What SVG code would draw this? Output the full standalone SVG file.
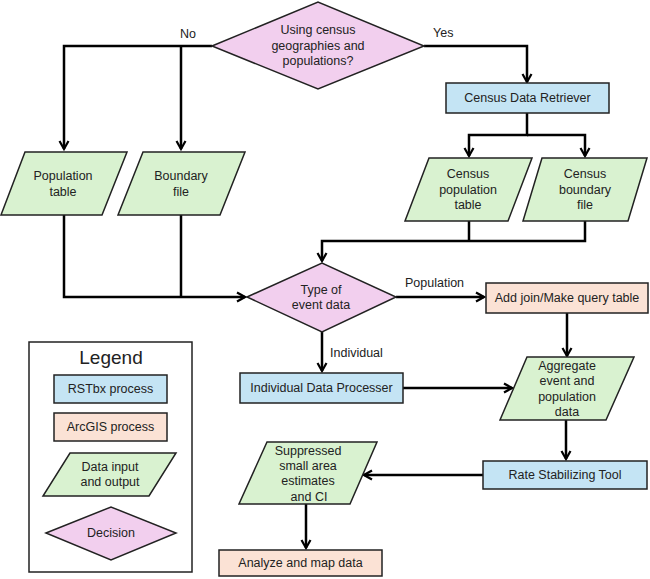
<svg xmlns="http://www.w3.org/2000/svg" width="650" height="579" viewBox="0 0 650 579">
<defs>
<marker id="arr" viewBox="0 0 12 12" refX="10" refY="6" markerWidth="12" markerHeight="12" markerUnits="userSpaceOnUse" orient="auto">
<path d="M2,1.5 L10,6 L2,10.5" fill="none" stroke="#000" stroke-width="2.2"/>
</marker>
</defs>
<style>
text{font-family:"Liberation Sans",Arial,sans-serif;font-size:12.5px;fill:#222;text-anchor:middle;dominant-baseline:central}
.lbl{text-anchor:start}
.blue{fill:#c4e4f4;stroke:#222;stroke-width:1.5}
.peach{fill:#fbe2d5;stroke:#222;stroke-width:1.5}
.green{fill:#d9f2d0;stroke:#222;stroke-width:1.5}
.pink{fill:#f2cfee;stroke:#222;stroke-width:1.5}
.conn path{fill:none;stroke:#000;stroke-width:2.5}
.legend{font-size:19px}
</style>
<rect width="650" height="579" fill="#fff"/>
<g class="conn" id="connectors">
<path d="M212,46 H64 V149" marker-end="url(#arr)"/>
<path d="M181,46 V149" marker-end="url(#arr)"/>
<path d="M424,46 H527 V82" marker-end="url(#arr)"/>
<path d="M527,113 V135 H469 V156" marker-end="url(#arr)"/>
<path d="M527,135 H585 V156" marker-end="url(#arr)"/>
<path d="M585,221 V241 H322 V261" marker-end="url(#arr)"/>
<path d="M469,221 V241"/>
<path d="M64,215 V297 H245" marker-end="url(#arr)"/>
<path d="M181,215 V297"/>
<path d="M396,297 H484" marker-end="url(#arr)"/>
<path d="M567,313 V356" marker-end="url(#arr)"/>
<path d="M322,332 V371" marker-end="url(#arr)"/>
<path d="M403,388 H512" marker-end="url(#arr)"/>
<path d="M566,420 V459" marker-end="url(#arr)"/>
<path d="M483,475 H364" marker-end="url(#arr)"/>
<path d="M306,504 V548" marker-end="url(#arr)"/>
</g>
<text class="lbl" x="180" y="34">No</text>
<text class="lbl" x="433" y="33">Yes</text>
<text class="lbl" x="405" y="283">Population</text>
<text class="lbl" x="330" y="353">Individual</text>
<g id="census-decision">
<polygon class="pink" points="212,46 318,2 424,46 318,89"/>
<text x="318" y="30">Using census</text>
<text x="318" y="45.5">geographies and</text>
<text x="318" y="61">populations?</text>
</g>
<g id="census-retriever">
<rect class="blue" x="446" y="83" width="163" height="30"/>
<text x="527.5" y="98">Census Data Retriever</text>
</g>
<g id="population-table">
<polygon class="green" points="25,152 127,152 102,215 1,215"/>
<text x="63" y="176">Population</text>
<text x="63" y="192">table</text>
</g>
<g id="boundary-file">
<polygon class="green" points="143,152 245,152 220,215 118,215"/>
<text x="181" y="176">Boundary</text>
<text x="181" y="192">file</text>
</g>
<g id="census-population-table">
<polygon class="green" points="429,158 532,158 508,221 405,221"/>
<text x="468" y="174">Census</text>
<text x="468" y="190">population</text>
<text x="468" y="205">table</text>
</g>
<g id="census-boundary-file">
<polygon class="green" points="542,158 647,158 628,221 523,221"/>
<text x="585" y="174">Census</text>
<text x="585" y="190">boundary</text>
<text x="585" y="205">file</text>
</g>
<g id="event-type-decision">
<polygon class="pink" points="247,297 322,263 396,297 322,332"/>
<text x="321" y="290">Type of</text>
<text x="321" y="305">event data</text>
</g>
<g id="add-join">
<rect class="peach" x="486" y="283" width="162" height="30"/>
<text x="567" y="298">Add join/Make query table</text>
</g>
<g id="individual-processer">
<rect class="blue" x="240" y="373" width="163" height="30"/>
<text x="321.5" y="388">Individual Data Processer</text>
</g>
<g id="aggregate">
<polygon class="green" points="527,357 634,357 606,420 500,420"/>
<text x="567" y="366">Aggregate</text>
<text x="567" y="381">event and</text>
<text x="567" y="397">population</text>
<text x="567" y="412">data</text>
</g>
<g id="rate-stabilizing">
<rect class="blue" x="483" y="461" width="164" height="28"/>
<text x="565" y="475">Rate Stabilizing Tool</text>
</g>
<g id="suppressed">
<polygon class="green" points="267,442 377,442 350,504 239,504"/>
<text x="308" y="451">Suppressed</text>
<text x="308" y="466">small area</text>
<text x="308" y="481">estimates</text>
<text x="309" y="497">and CI</text>
</g>
<g id="analyze">
<rect class="peach" x="219" y="550" width="163" height="26"/>
<text x="300.5" y="563">Analyze and map data</text>
</g>
<g id="legend">
<rect x="29" y="342" width="163" height="230" fill="#fff" stroke="#222" stroke-width="1.5"/>
<text class="legend" x="111" y="357">Legend</text>
<rect class="blue" x="54" y="375" width="113" height="28"/>
<text x="110.5" y="389">RSTbx process</text>
<rect class="peach" x="54" y="413" width="113" height="28"/>
<text x="110.5" y="427">ArcGIS process</text>
<polygon class="green" points="70,453 176,453 149,496 43,496"/>
<text x="110" y="467">Data input</text>
<text x="110" y="482">and output</text>
<polygon class="pink" points="46,533 111,507 176,533 111,560"/>
<text x="111" y="533">Decision</text>
</g>
</svg>
